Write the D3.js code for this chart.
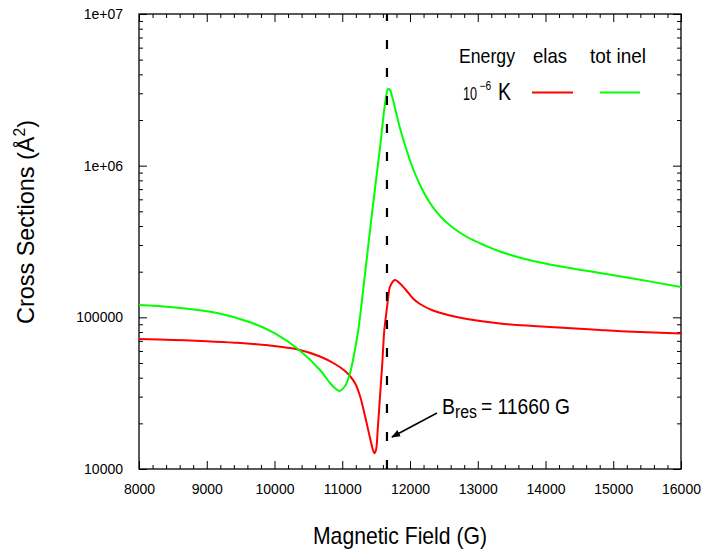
<!DOCTYPE html>
<html>
<head>
<meta charset="utf-8">
<script src="https://cdn.jsdelivr.net/npm/d3@7/dist/d3.min.js"></script>
<style>
  html, body { margin: 0; padding: 0; background: #fff; }
  svg { display: block; font-family: "Liberation Sans", Arial, sans-serif; }
</style>
</head>
<body>
<svg id="chart" width="705" height="549"></svg>
<script>
// Magnetic field (G) and cross sections (Å^2) at collision energy 1e-6 K
const elasField = [8000, 8500, 9000, 9417, 9904, 10347, 10672, 10893, 11041, 11114, 11188, 11262, 11336, 11410, 11449, 11473, 11498, 11523, 11557, 11591, 11621, 11656, 11680, 11705, 11779, 11852, 11941, 12044, 12148, 12339, 12590, 12841, 13328, 13815, 14317, 14804, 15292, 16000];
const elasValues = [71980, 70900, 69600, 68040, 65400, 61380, 55170, 49240, 44290, 41040, 36900, 30300, 22360, 16020, 13550, 12700, 13350, 18080, 29970, 49770, 82500, 111800, 136800, 159200, 176300, 167100, 151500, 133100, 122400, 110900, 102800, 97500, 91100, 87700, 85060, 82500, 80300, 78270];

const inelField = [8000, 8500, 9170, 9663, 10007, 10351, 10672, 10819, 10893, 10956, 11041, 11114, 11173, 11237, 11336, 11445, 11557, 11616, 11646, 11675, 11705, 11734, 11793, 11852, 11926, 12030, 12148, 12295, 12443, 12620, 12841, 13107, 13328, 13815, 14317, 14804, 15292, 16000];
const inelValues = [120600, 116500, 106300, 92050, 78270, 61560, 44960, 36900, 34060, 32690, 35270, 42760, 56460, 82500, 193100, 510300, 1308000, 2259000, 2837000, 3200000, 3155000, 2880000, 2260000, 1772000, 1369000, 995000, 745600, 567400, 465900, 394000, 338600, 297700, 271800, 235200, 213100, 196000, 180400, 158500];

const xTicks = [8000, 9000, 10000, 11000, 12000, 13000, 14000, 15000, 16000];
const yTicks = [1e4, 1e5, 1e6, 1e7];
const resonanceField = 11660;

const seriesNames = ["elas", "tot inel"];
const seriesColors = ["#ff0000", "#00ff00"];

const svg = d3.select("#chart");
const plot = { left: 139, top: 14, right: 681, bottom: 469 };

const x = d3.scaleLinear().domain([8000, 16000]).range([plot.left, plot.right]);
const y = d3.scaleLog().domain([1e4, 1e7]).range([plot.bottom, plot.top]);

const majorLen = 8, minorLen = 4;
const xMinor = d3.range(8000, 16001, 200).filter(v => v % 1000 !== 0);
const yMinor = [];
[1e4, 1e5, 1e6].forEach(d => { for (let k = 2; k <= 9; k++) yMinor.push(d * k); });

const expFmt = v => {
  const e = Math.round(Math.log10(v));
  return e >= 6 ? "1e+" + String(e).padStart(2, "0") : String(v);
};

function styleAxis(g) {
  g.select(".domain").remove();
  g.selectAll(".tick line").attr("stroke", "#000").attr("stroke-width", 1);
  g.selectAll(".tick text").attr("fill", "#000").style("font-size", "14px")
    .style("font-family", "'Liberation Sans', Arial, sans-serif");
}

// bottom axis with labels, ticks drawn inward
svg.append("g").attr("transform", `translate(0,${plot.bottom})`)
  .call(d3.axisBottom(x).tickValues(xTicks).tickSize(-majorLen).tickPadding(majorLen + 7).tickFormat(d3.format("d")))
  .call(styleAxis);
svg.append("g").attr("transform", `translate(0,${plot.bottom})`)
  .call(d3.axisBottom(x).tickValues(xMinor).tickSize(-minorLen).tickFormat(""))
  .call(styleAxis);
// mirrored top ticks
svg.append("g").attr("transform", `translate(0,${plot.top})`)
  .call(d3.axisTop(x).tickValues(xTicks).tickSize(-majorLen).tickFormat(""))
  .call(styleAxis);
svg.append("g").attr("transform", `translate(0,${plot.top})`)
  .call(d3.axisTop(x).tickValues(xMinor).tickSize(-minorLen).tickFormat(""))
  .call(styleAxis);

// left axis with labels
svg.append("g").attr("transform", `translate(${plot.left},0)`)
  .call(d3.axisLeft(y).tickValues(yTicks).tickSize(-majorLen).tickPadding(majorLen + 8).tickFormat(expFmt))
  .call(styleAxis);
svg.append("g").attr("transform", `translate(${plot.left},0)`)
  .call(d3.axisLeft(y).tickValues(yMinor).tickSize(-minorLen).tickFormat(""))
  .call(styleAxis);
// mirrored right ticks
svg.append("g").attr("transform", `translate(${plot.right},0)`)
  .call(d3.axisRight(y).tickValues(yTicks).tickSize(-majorLen).tickFormat(""))
  .call(styleAxis);
svg.append("g").attr("transform", `translate(${plot.right},0)`)
  .call(d3.axisRight(y).tickValues(yMinor).tickSize(-minorLen).tickFormat(""))
  .call(styleAxis);

// plot frame
svg.append("rect")
  .attr("x", plot.left).attr("y", plot.top)
  .attr("width", plot.right - plot.left).attr("height", plot.bottom - plot.top)
  .attr("fill", "none").attr("stroke", "#000").attr("stroke-width", 1.3);

// curves
svg.append("clipPath").attr("id", "plot-clip").append("rect")
  .attr("x", plot.left).attr("y", plot.top)
  .attr("width", plot.right - plot.left).attr("height", plot.bottom - plot.top);

const line = d3.line().x(d => x(d[0])).y(d => y(d[1])).curve(d3.curveCatmullRom.alpha(0.5));
const series = [
  d3.zip(elasField, elasValues),
  d3.zip(inelField, inelValues)
];
const curves = svg.append("g").attr("clip-path", "url(#plot-clip)");
series.forEach((pts, i) => {
  curves.append("path").datum(pts)
    .attr("d", line)
    .attr("fill", "none")
    .attr("stroke", seriesColors[i])
    .attr("stroke-width", 2)
    .attr("stroke-linejoin", "round");
});

// resonance position
curves.append("line")
  .attr("x1", x(resonanceField)).attr("x2", x(resonanceField))
  .attr("y1", plot.bottom).attr("y2", plot.top)
  .attr("stroke", "#000").attr("stroke-width", 2.2)
  .attr("stroke-dasharray", "9,19");

// legend
const legendFont = "'Liberation Sans', Arial, sans-serif";
function label(txt, lx, ly, size, len) {
  const t = svg.append("text").attr("x", lx).attr("y", ly)
    .style("font-size", size + "px").style("font-family", legendFont).attr("fill", "#000").text(txt);
  if (len) t.attr("textLength", len).attr("lengthAdjust", "spacingAndGlyphs");
  return t;
}
// narrow text drawn by horizontal scaling
function narrow(txt, lx, ly, size, sx) {
  return svg.append("text")
    .attr("transform", `translate(${lx},${ly}) scale(${sx},1)`)
    .style("font-size", size + "px").style("font-family", legendFont).attr("fill", "#000").text(txt);
}
label("Energy", 459, 63, 21, 56);
label(seriesNames[0], 533, 63, 21, 34);
label(seriesNames[1], 590, 63, 21, 56);
narrow("10", 463, 100, 18, 0.7);
narrow("\u22126", 479.5, 90, 12, 0.85);
label("K", 498, 100, 23, 13);
const legendLines = [[532, 573], [600, 640]];
legendLines.forEach((xs, i) => {
  svg.append("line").attr("x1", xs[0]).attr("x2", xs[1]).attr("y1", 92.5).attr("y2", 92.5)
    .attr("stroke", seriesColors[i]).attr("stroke-width", 2);
});

// resonance annotation with arrow
svg.append("defs").append("marker")
  .attr("id", "arrowhead").attr("viewBox", "0 0 10 10")
  .attr("refX", 9).attr("refY", 5)
  .attr("markerWidth", 9).attr("markerHeight", 9)
  .attr("markerUnits", "userSpaceOnUse")
  .attr("orient", "auto")
  .append("path").attr("d", "M0,1 L10,5 L0,9 Z").attr("fill", "#000");
svg.append("line")
  .attr("x1", 437).attr("y1", 413).attr("x2", x(resonanceField) + 5).attr("y2", 437)
  .attr("stroke", "#000").attr("stroke-width", 1.5)
  .attr("marker-end", "url(#arrowhead)");
label("B", 442, 414, 22, 13);
label("res", 455, 418, 18, 22);
label("= " + resonanceField + " G", 481, 414, 22, 89);

// axis titles
svg.append("text")
  .attr("transform", "translate(34,222) rotate(-90)")
  .attr("text-anchor", "middle")
  .style("font-size", "24px").style("font-family", legendFont)
  .attr("textLength", 204).attr("lengthAdjust", "spacingAndGlyphs")
  .html('Cross Sections (Å<tspan dy="-9" font-size="16">2</tspan><tspan dy="9">)</tspan>');

svg.append("text")
  .attr("x", 400).attr("y", 544)
  .attr("text-anchor", "middle")
  .style("font-size", "24px").style("font-family", legendFont)
  .attr("textLength", 174).attr("lengthAdjust", "spacingAndGlyphs")
  .text("Magnetic Field (G)");
</script>
</body>
</html>
